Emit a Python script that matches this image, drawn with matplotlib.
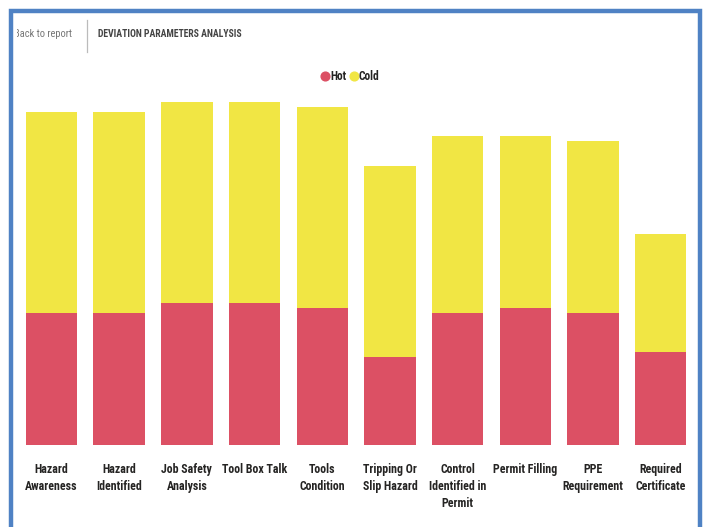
import matplotlib
matplotlib.use("Agg")
import matplotlib.pyplot as plt
from matplotlib import font_manager
from matplotlib.lines import Line2D
from matplotlib.transforms import Bbox, TransformedBbox

categories = ["Hazard\nAwareness", "Hazard\nIdentified", "Job Safety\nAnalysis",
              "Tool Box Talk", "Tools\nCondition", "Tripping Or\nSlip Hazard",
              "Control\nIdentified in\nPermit", "Permit Filling", "PPE\nRequirement",
              "Required\nCertificate"]
hot = [27, 27, 29, 29, 28, 18, 27, 28, 27, 19]
cold = [41, 41, 41, 41, 41, 39, 36, 35, 35, 24]

HOT_COLOR = "#DC5064"
COLD_COLOR = "#F1E644"
BORDER = "#4F82C4"

# pick a narrow font if one is installed
names = {f.name for f in font_manager.fontManager.ttflist}
narrow = None
for cand in ["Liberation Sans Narrow", "DejaVu Sans Condensed", "Roboto Condensed"]:
    if cand in names:
        narrow = cand
        break
if narrow is None:
    narrow = "DejaVu Sans"
plt.rcParams['font.family'] = [narrow, 'DejaVu Sans']

W, H = 705, 527
fig = plt.figure(figsize=(W / 100, H / 100), dpi=100)

def fx(px):
    return px / W

def fy(py):
    return 1 - py / H

# bars
ax = fig.add_axes([fx(17.6), fy(445), fx(677), 72 * 4.9 / H])
x = range(len(categories))
ax.bar(x, hot, width=0.76, color=HOT_COLOR)
ax.bar(x, cold, width=0.76, bottom=hot, color=COLD_COLOR)
ax.set_xlim(-0.5, len(categories) - 0.5)
ax.set_ylim(0, 72)
ax.set_xticks(list(x))
ax.set_xticklabels(categories, fontsize=8.6, fontweight='bold', color='#252423',
                   linespacing=1.38, va='top')
ax.tick_params(axis='x', length=0, pad=13)
ax.set_yticks([])
for s in ax.spines.values():
    s.set_visible(False)

# header
clip = TransformedBbox(Bbox([[fx(16.5), 0], [1, 1]]), fig.transFigure)
t = fig.text(fx(13.5), fy(34), "Back to report", fontsize=7.6, color='#777777', va='center')
t.set_clip_box(clip)
t.set_clip_on(True)
fig.add_artist(Line2D([fx(87), fx(87)], [fy(20), fy(52)], color='#bbbbbb', lw=0.9))
fig.text(fx(98), fy(34), "DEVIATION PARAMETERS ANALYSIS", fontsize=7.0,
         fontweight='bold', color='#444444', va='center')

# legend
fig.add_artist(Line2D([fx(325)], [fy(76)], marker='o', markersize=6.3, ls='none',
                      color=HOT_COLOR))
fig.text(fx(330), fy(76), "Hot", fontsize=8.3, fontweight='bold', color='#252423', va='center')
fig.add_artist(Line2D([fx(354)], [fy(76)], marker='o', markersize=6.3, ls='none',
                      color=COLD_COLOR))
fig.text(fx(359), fy(76), "Cold", fontsize=8.3, fontweight='bold', color='#252423', va='center')

# blue frame (open at the bottom, cut off in the reference)
fig.add_artist(Line2D([fx(10.5), fx(10.5), fx(700), fx(700)],
                      [fy(H + 2), fy(11), fy(11), fy(H + 2)],
                      color=BORDER, lw=3.2, solid_joinstyle='miter'))

fig.savefig("out.png", dpi=100, facecolor='white')
